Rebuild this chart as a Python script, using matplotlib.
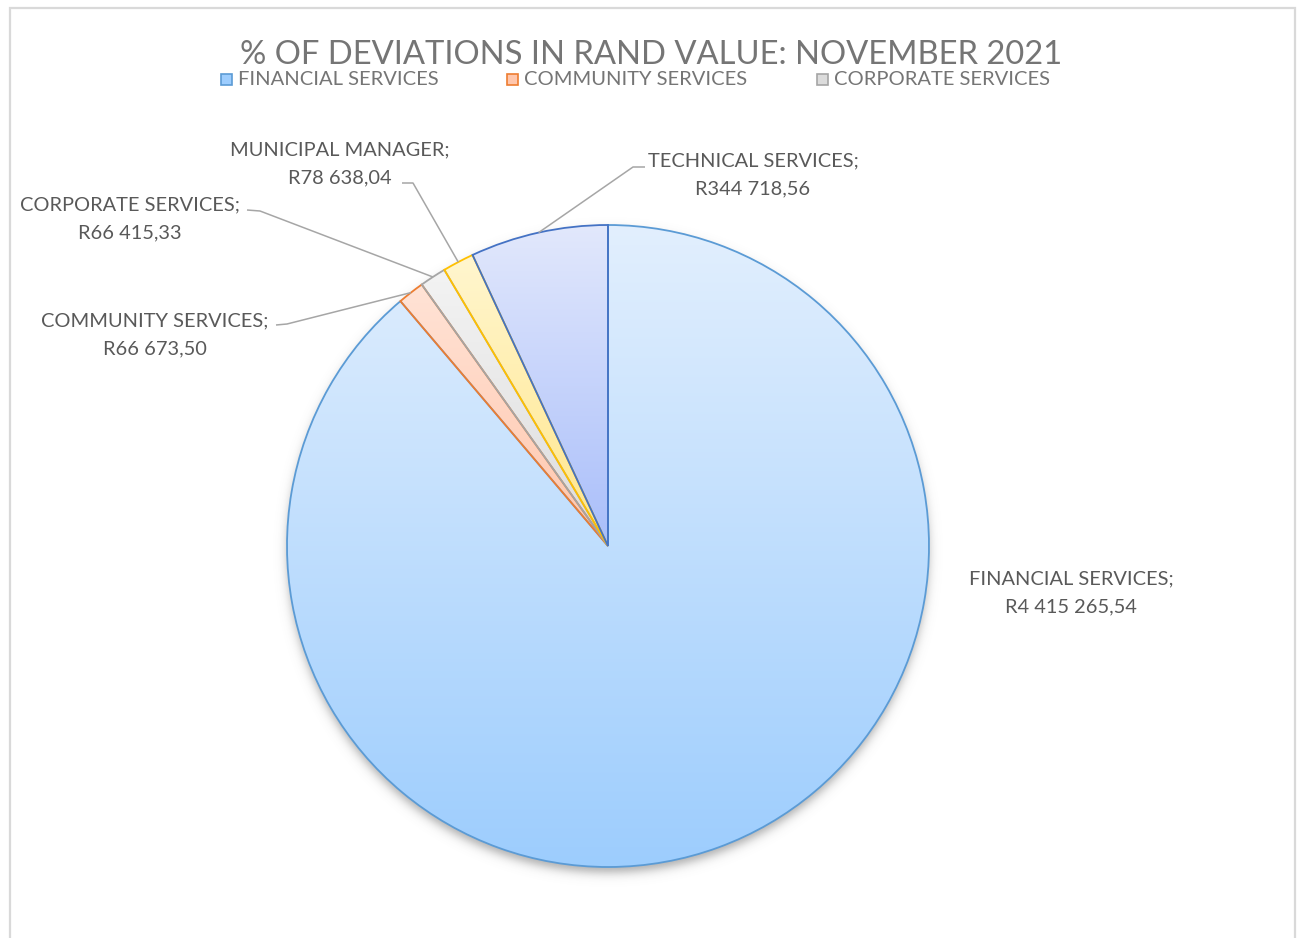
import numpy as np
import matplotlib
matplotlib.use('Agg')
import matplotlib.pyplot as plt
from matplotlib.patches import Rectangle
from matplotlib.colors import to_rgb

# deviations per directorate, rand value
departments = ['FINANCIAL SERVICES', 'COMMUNITY SERVICES', 'CORPORATE SERVICES',
               'MUNICIPAL MANAGER', 'TECHNICAL SERVICES']
amounts = [4415265.54, 66673.50, 66415.33, 78638.04, 344718.56]
legend_names = ['FINANCIAL SERVICES', 'COMMUNITY SERVICES', 'CORPORATE SERVICES']

# (top colour, bottom colour, edge colour) for each slice
styles = [
    ('#E2EFFD', '#9DCDFE', '#5B9BD5'),
    ('#FFE3D6', '#FFC6AC', '#ED7D31'),
    ('#F3F3F3', '#DCDCDC', '#A5A5A5'),
    ('#FFF6CF', '#FFE68A', '#FFC000'),
    ('#E2E8FC', '#A9BEFA', '#4472C4'),
]

W, H = 1298, 938
CX, CY, R = 608, H - 546, 321


def rand(v):
    s = f'{v:,.2f}'.replace(',', ' ').replace('.', ',')
    return 'R' + s


plt.rcParams['font.family'] = ['Lato', 'DejaVu Sans']
fig = plt.figure(figsize=(W / 100, H / 100), dpi=100)
ax = fig.add_axes([0, 0, 1, 1])
ax.set_xlim(0, W)
ax.set_ylim(0, H)
ax.axis('off')

# outer frame of the chart area
ax.add_patch(Rectangle((9.5, -10), 1285, H - 7.5 + 10, fill=False,
                       edgecolor='#D9D9D9', lw=1.6, zorder=0))

# soft drop shadow under the pie
gx, gy = np.meshgrid(np.arange(CX - R - 30, CX + R + 30),
                     np.arange(CY - R - 30, CY + R + 30))
d = np.hypot(gx - CX, gy - (CY - 6))
alpha = 0.5 / (1 + np.exp((d - R) / 3.0))
shadow = np.zeros(d.shape + (4,))
shadow[..., :3] = 0.35
shadow[..., 3] = alpha
ax.imshow(shadow, extent=[gx.min(), gx.max(), gy.min(), gy.max()],
          origin='lower', aspect='auto', zorder=1)

wedges, _ = ax.pie(amounts, startangle=90, counterclock=False,
                   center=(CX, CY), radius=R, frame=True,
                   wedgeprops=dict(linewidth=1.3, zorder=3))

for w, (top, bottom, edge) in zip(wedges, styles):
    w.set_facecolor('none')
    w.set_edgecolor(edge)
    w.set_zorder(3)
    ext = w.get_path().get_extents()
    grad = np.linspace(0, 1, 256)[:, None, None]
    img = (1 - grad) * np.array(to_rgb(bottom)) + grad * np.array(to_rgb(top))
    im = ax.imshow(img, extent=[ext.x0, ext.x1, ext.y0, ext.y1], origin='lower',
                   aspect='auto', interpolation='bicubic', zorder=2)
    im.set_clip_path(w)

ax.set_xlim(0, W)
ax.set_ylim(0, H)
ax.set_aspect('auto')
ax.axis('off')

label_kw = dict(fontsize=14.4, color='#595959', ha='center', va='center',
                linespacing=1.75, zorder=5)

# label centres and leader elbows, in pixels from the top-left corner
label_pos = [(1071, 593), (155, 335), (130, 219), (340, 164), (753, 175)]
elbows = [None,
          [(287, 324), (276, 325)],
          [(260, 211), (247, 210)],
          [(413, 183), (402, 183)],
          [(633, 167), (645, 167)]]

for w, name, val, (lx, ly), elbow in zip(wedges, departments, amounts,
                                         label_pos, elbows):
    ax.text(lx, H - ly, f'{name};\n{rand(val)}', **label_kw)
    if elbow is None:
        continue
    mid = np.deg2rad((w.theta1 + w.theta2) / 2)
    xs = [CX + R * np.cos(mid)] + [p[0] for p in elbow]
    ys = [CY + R * np.sin(mid)] + [H - p[1] for p in elbow]
    ax.plot(xs, ys, color='#A6A6A6', lw=1.1, zorder=4, solid_capstyle='butt')

ax.text(651, H - 55, '% OF DEVIATIONS IN RAND VALUE: NOVEMBER 2021',
        fontsize=23.6, color='#757575', ha='center', va='center')

# legend row
legend_x = [226, 512, 822]
for x, name, (top, bottom, edge) in zip(legend_x, legend_names, styles):
    ax.add_patch(Rectangle((x - 5.5, H - 79 - 5.5), 11, 11, facecolor=bottom,
                           edgecolor=edge, lw=1.2, zorder=5))
    ax.text(x + 12, H - 79, name, fontsize=14.5, color='#757575',
            ha='left', va='center')

fig.savefig('out.png', dpi=100)
